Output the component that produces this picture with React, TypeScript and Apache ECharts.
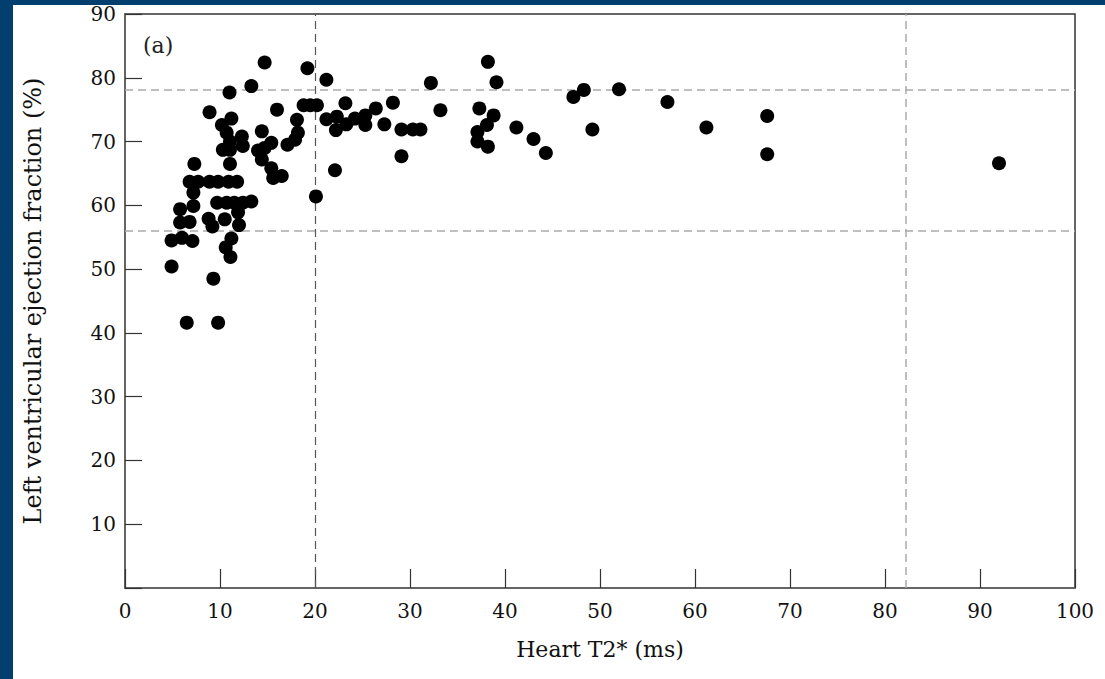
import React, { useEffect, useRef } from "react";
import * as echarts from "echarts";

const heartT2: number[] = [
  4.9, 4.9, 6.0, 7.1, 5.8, 6.8, 5.8, 7.2, 7.2, 6.5, 9.8, 9.3, 11.1, 10.6, 11.2, 8.8, 9.2, 10.5, 12.0, 11.9,
  9.7, 10.7, 11.5, 12.4, 13.3,
  6.8, 7.7, 8.9, 9.8, 10.9, 11.8,
  7.3, 11.05,
  10.3, 11.05, 12.4, 11.05, 12.3, 10.7, 10.2, 11.2, 8.9, 11.0, 13.3, 14.7,
  14.4, 14.0, 14.4, 14.7, 15.4, 15.4, 15.6, 16.5, 16.0, 17.1, 17.9, 18.2, 18.1,
  18.8, 19.5, 20.2, 19.2, 20.1, 21.2, 21.2, 22.3, 22.2, 22.1, 23.2, 23.3, 24.2, 25.3, 25.3, 26.4, 27.3, 28.2,
  29.1, 30.3, 31.1, 29.1, 32.2, 33.2,
  37.3, 38.2, 39.1, 38.8, 38.1, 37.1, 37.1, 38.2, 41.2, 43.0, 44.3, 47.2, 48.3, 49.2, 52.0, 57.1, 61.2,
  67.6, 67.6, 92.0,
];
const lvef: number[] = [
  50.4, 54.5, 54.9, 54.4, 57.3, 57.4, 59.4, 59.9, 62.0, 41.6, 41.6, 48.5, 51.9, 53.4, 54.8, 57.9, 56.7, 57.8, 56.9, 58.9,
  60.4, 60.4, 60.4, 60.4, 60.6,
  63.7, 63.7, 63.7, 63.7, 63.7, 63.7,
  66.5, 66.5,
  68.7, 68.7, 69.3, 70.0, 70.8, 71.4, 72.6, 73.6, 74.6, 77.7, 78.7, 82.4,
  71.6, 68.6, 67.2, 69.0, 69.8, 65.8, 64.3, 64.6, 75.0, 69.5, 70.3, 71.4, 73.4,
  75.7, 75.7, 75.7, 81.5, 61.4, 79.7, 73.5, 73.9, 71.8, 65.5, 76.0, 72.7, 73.6, 74.1, 72.6, 75.2, 72.7, 76.1,
  71.9, 71.9, 71.9, 67.7, 79.2, 74.9,
  75.2, 82.5, 79.3, 74.1, 72.6, 71.5, 70.0, 69.2, 72.2, 70.4, 68.2, 77.0, 78.1, 71.9, 78.2, 76.2, 72.2,
  74.0, 68.0, 66.6,
];
const xRefLines: number[] = [20, 82.2];
const yRefLines: number[] = [78.1, 56.0];
const xTitle = "Heart T2* (ms)";
const yTitle = "Left ventricular ejection fraction (%)";
const panelLabel = "(a)";

const FONT = "'DejaVu Serif', 'Liberation Serif', serif";
const FRAME = "#023f6f";

export default function App() {
  const ref = useRef<HTMLDivElement>(null);
  useEffect(() => {
    document.body.style.margin = "0";
    if (!ref.current) return;
    const chart = echarts.init(ref.current, undefined, { renderer: "svg" });
    const points = heartT2.map((x, i) => [x, lvef[i]]);
    chart.setOption({
      animation: false,
      backgroundColor: "#ffffff",
      textStyle: { fontFamily: FONT },
      grid: {
        left: 125,
        right: 30,
        top: 14,
        bottom: 91,
        outerBoundsMode: "none",
        containLabel: false,
        show: true,
        borderColor: "#333",
        borderWidth: 1.5,
        backgroundColor: "transparent",
      },
      xAxis: {
        type: "value",
        min: 0,
        max: 100,
        interval: 10,
        name: xTitle,
        nameLocation: "middle",
        nameGap: 50,
        nameTextStyle: { fontFamily: FONT, fontSize: 22, color: "#111" },
        axisLine: { show: true, lineStyle: { color: "#666", width: 1.5 } },
        axisTick: { show: true, inside: true, length: 19, lineStyle: { color: "#333", width: 1.2 } },
        axisLabel: { fontFamily: FONT, fontSize: 20, color: "#111", margin: 13 },
        splitLine: { show: false },
      },
      yAxis: {
        type: "value",
        min: 0,
        max: 90,
        interval: 10,
        name: yTitle,
        nameLocation: "middle",
        nameGap: 80,
        nameTextStyle: { fontFamily: FONT, fontSize: 24, color: "#111" },
        axisLine: { show: true, lineStyle: { color: "#666", width: 1.5 } },
        axisTick: { show: true, inside: true, length: 17, lineStyle: { color: "#333", width: 1.2 } },
        axisLabel: {
          fontFamily: FONT,
          fontSize: 20,
          color: "#111",
          margin: 9,
          formatter: (v: number) => (v === 0 ? "" : String(v)),
        },
        splitLine: { show: false },
      },
      series: [
        {
          type: "scatter",
          data: points,
          symbol: "circle",
          symbolSize: 14,
          itemStyle: { color: "#000", opacity: 1 },
          z: 5,
          markLine: {
            silent: true,
            symbol: "none",
            label: { show: false },
            z: 1,
            data: [
              { xAxis: xRefLines[0], lineStyle: { color: "#555", type: [8, 5], width: 1.2 } },
              { xAxis: xRefLines[1], lineStyle: { color: "#aaa", type: [8, 5], width: 1.5 } },
              { yAxis: yRefLines[0], lineStyle: { color: "#aaa", type: [8, 5], width: 1.5 } },
              { yAxis: yRefLines[1], lineStyle: { color: "#aaa", type: [8, 5], width: 1.5 } },
            ],
          },
        },
      ],
      graphic: [
        { type: "rect", left: 0, top: 0, z: -10, shape: { width: 1105, height: 5 }, style: { fill: FRAME } },
        { type: "rect", left: 0, top: 0, z: -10, shape: { width: 13, height: 679 }, style: { fill: FRAME } },
        {
          type: "text",
          left: 143,
          top: 34,
          style: { text: panelLabel, font: `22px ${FONT}`, fill: "#222" },
        },
      ],
    });
    return () => chart.dispose();
  }, []);
  return <div ref={ref} style={{ width: 1105, height: 679 }} />;
}
